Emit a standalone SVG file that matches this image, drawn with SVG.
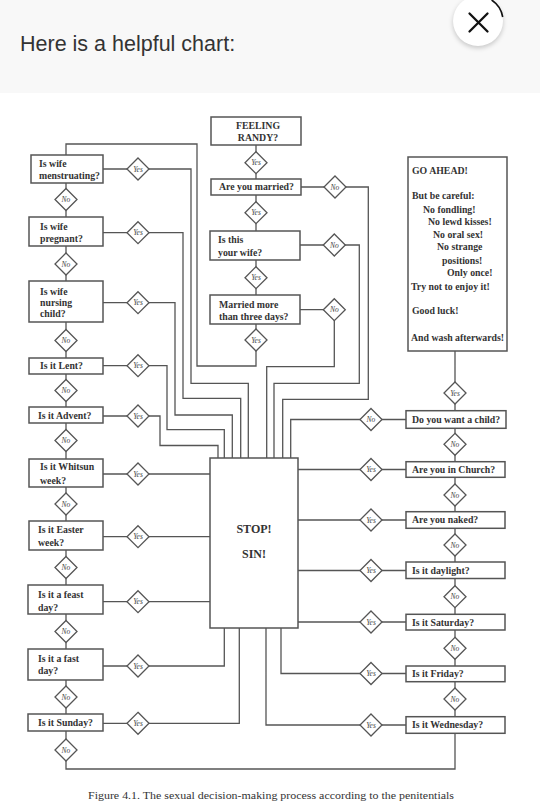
<svg xmlns="http://www.w3.org/2000/svg" xmlns:xlink="http://www.w3.org/1999/xlink" width="540" height="801" viewBox="0 0 540 801">
<defs>
<style>
.bx{fill:#fff;stroke:#555;stroke-width:1.5}
.cn{fill:none;stroke:#555;stroke-width:1.3}
.t{font-family:"Liberation Serif",serif;font-weight:bold;font-size:9.8px;fill:#333}
.dt{font-family:"Liberation Serif",serif;font-style:italic;font-size:7.5px;fill:#444;text-anchor:middle}
.m{text-anchor:middle}
.big{font-size:12px}
</style>
<polygon id="dm" points="0,-11 11,0 0,11 -11,0" fill="#fff" stroke="#555" stroke-width="1.3"/>
<filter id="sh" x="-50%" y="-50%" width="200%" height="200%"><feGaussianBlur stdDeviation="2.5"/></filter>
</defs>
<rect width="540" height="801" fill="#fff"/>
<g id="header">
<rect width="540" height="93" fill="#f8f8f8"/>
<text x="20" y="51" font-family="Liberation Sans, Arial, sans-serif" font-size="21.5" fill="#333">Here is a helpful chart:</text>
<circle cx="478" cy="23" r="25" fill="#000" opacity="0.2" filter="url(#sh)"/>
<circle cx="478" cy="21" r="25" fill="#fff"/>
<path d="M469.5,13.5 L487.5,31.5 M487.5,13.5 L469.5,31.5" stroke="#111" stroke-width="2.3" stroke-linecap="round"/>
<path d="M491.6,0 A25,25 0 0 1 502.7,17" fill="none" stroke="#111" stroke-width="1.6"/>
</g>
<g id="connectors">
<path class="cn" d="M256,145 V366 H197 V144 H66 V769 H455 V351"/>
<path class="cn" d="M301,187 H368.3 V399.3 H282.7 V458"/>
<path class="cn" d="M300,245 H359.3 V383.3 H274 V458"/>
<path class="cn" d="M300,309.7 H334.3 V366.7 H266.7 V458"/>
<path class="cn" d="M406,419.5 H290.7 V458"/>
<path class="cn" d="M103,169 H191 V383.3 H248.3 V458"/>
<path class="cn" d="M103,232.7 H183 V398.3 H240.7 V458"/>
<path class="cn" d="M103,302.7 H175 V415 H232.3 V458"/>
<path class="cn" d="M103,365.7 H167 V429.7 H224.3 V458"/>
<path class="cn" d="M103,416 H160 V445.5 H218 V458"/>
<path class="cn" d="M103,474 H210 M103,536.7 H210 M103,601.7 H210"/>
<path class="cn" d="M103,666 H224.3 V628 M103,723.3 H239.3 V628"/>
<path class="cn" d="M406,469.5 H298 M406,520 H298 M406,570.5 H298 M406,622 H298"/>
<path class="cn" d="M406,673.5 H281 V628 M406,725 H266 V628"/>
</g>
<g id="n-randy"><rect class="bx" x="211" y="117" width="90" height="28"/><text class="t m" x="258" y="129">FEELING</text><text class="t m" x="258" y="141">RANDY?</text></g>
<g id="n-married"><rect class="bx" x="211" y="179" width="90" height="16"/><text class="t" x="219" y="190.4">Are you married?</text></g>
<g id="n-wife"><rect class="bx" x="210" y="231" width="90" height="29"/><text class="t" x="218" y="243.4">Is this</text><text class="t" x="218" y="256.2">your wife?</text></g>
<g id="n-three"><rect class="bx" x="210" y="295" width="90" height="29"/><text class="t" x="219" y="307.7">Married more</text><text class="t" x="219" y="320.2">than three days?</text></g>
<g id="n-goahead"><rect class="bx" x="408" y="157" width="99" height="194"/>
<text class="t" x="412" y="174">GO AHEAD!</text>
<text class="t" x="412" y="198.5">But be careful:</text>
<text class="t" x="423" y="212.5">No fondling!</text>
<text class="t" x="428" y="225">No lewd kisses!</text>
<text class="t" x="433" y="237.5">No oral sex!</text>
<text class="t" x="437" y="250">No strange</text>
<text class="t" x="442" y="263.5">positions!</text>
<text class="t" x="447" y="276">Only once!</text>
<text class="t" x="411" y="289.5">Try not to enjoy it!</text>
<text class="t" x="412" y="314">Good luck!</text>
<text class="t" x="411" y="341">And wash afterwards!</text></g>
<g id="n-stop"><rect class="bx" x="210" y="458" width="88" height="170"/><text class="t m big" x="254" y="533.3">STOP!</text><text class="t m big" x="254" y="558.3">SIN!</text></g>
<g id="n-menstruating"><rect class="bx" x="31" y="155" width="72" height="28"/><text class="t" x="39" y="166.7">Is wife</text><text class="t" x="39" y="179">menstruating?</text></g>
<g id="n-pregnant"><rect class="bx" x="29" y="217" width="74" height="29"/><text class="t" x="40" y="230">Is wife</text><text class="t" x="40" y="241.5">pregnant?</text></g>
<g id="n-nursing"><rect class="bx" x="29" y="281" width="74" height="41"/><text class="t" x="40" y="295">Is wife</text><text class="t" x="40" y="306">nursing</text><text class="t" x="40" y="317">child?</text></g>
<g id="n-lent"><rect class="bx" x="29" y="358" width="74" height="16"/><text class="t" x="40" y="369">Is it Lent?</text></g>
<g id="n-advent"><rect class="bx" x="29" y="407" width="74" height="16"/><text class="t" x="38" y="419">Is it Advent?</text></g>
<g id="n-whitsun"><rect class="bx" x="29" y="459" width="74" height="28"/><text class="t" x="40" y="470">Is it Whitsun</text><text class="t" x="40" y="483.5">week?</text></g>
<g id="n-easter"><rect class="bx" x="29" y="521" width="74" height="29"/><text class="t" x="38" y="533.4">Is it Easter</text><text class="t" x="38" y="546.3">week?</text></g>
<g id="n-feast"><rect class="bx" x="28" y="585" width="75" height="29"/><text class="t" x="38" y="597.7">Is it a feast</text><text class="t" x="38" y="610.5">day?</text></g>
<g id="n-fast"><rect class="bx" x="28" y="649" width="75" height="31"/><text class="t" x="38" y="661.7">Is it a fast</text><text class="t" x="38" y="674.4">day?</text></g>
<g id="n-sunday"><rect class="bx" x="28" y="714" width="75" height="17"/><text class="t" x="38" y="726">Is it Sunday?</text></g>
<g id="n-child"><rect class="bx" x="406" y="410.7" width="100" height="17.6"/><text class="t" x="412" y="423">Do you want a child?</text></g>
<g id="n-church"><rect class="bx" x="406" y="461.7" width="99" height="15.6"/><text class="t" x="412" y="473">Are you in Church?</text></g>
<g id="n-naked"><rect class="bx" x="406" y="511.7" width="99" height="16.6"/><text class="t" x="412" y="523.4">Are you naked?</text></g>
<g id="n-daylight"><rect class="bx" x="406" y="562" width="99" height="16.5"/><text class="t" x="412" y="573.7">Is it daylight?</text></g>
<g id="n-saturday"><rect class="bx" x="406" y="614.3" width="99" height="15.7"/><text class="t" x="412" y="625.5">Is it Saturday?</text></g>
<g id="n-friday"><rect class="bx" x="406" y="666" width="99" height="15.7"/><text class="t" x="412" y="677.2">Is it Friday?</text></g>
<g id="n-wednesday"><rect class="bx" x="406" y="716.7" width="99" height="16.6"/><text class="t" x="412" y="728.4">Is it Wednesday?</text></g>
<g id="d-randy-yes"><use xlink:href="#dm" x="256" y="162.7"/><text class="dt" x="256" y="165.2">Yes</text></g>
<g id="d-married-yes"><use xlink:href="#dm" x="256" y="212.7"/><text class="dt" x="256" y="215.2">Yes</text></g>
<g id="d-wife-yes"><use xlink:href="#dm" x="256" y="277.7"/><text class="dt" x="256" y="280.2">Yes</text></g>
<g id="d-three-yes"><use xlink:href="#dm" x="256" y="340"/><text class="dt" x="256" y="342.5">Yes</text></g>
<g id="d-married-no"><use xlink:href="#dm" x="335" y="187"/><text class="dt" x="335" y="189.5">No</text></g>
<g id="d-wife-no"><use xlink:href="#dm" x="334.3" y="245"/><text class="dt" x="334.3" y="247.5">No</text></g>
<g id="d-three-no"><use xlink:href="#dm" x="334.3" y="309.7"/><text class="dt" x="334.3" y="312.2">No</text></g>
<g id="d-men-yes"><use xlink:href="#dm" x="138" y="169"/><text class="dt" x="138" y="171.5">Yes</text></g>
<g id="d-preg-yes"><use xlink:href="#dm" x="138" y="232.7"/><text class="dt" x="138" y="235.2">Yes</text></g>
<g id="d-nurs-yes"><use xlink:href="#dm" x="138" y="302.7"/><text class="dt" x="138" y="305.2">Yes</text></g>
<g id="d-lent-yes"><use xlink:href="#dm" x="138" y="365.7"/><text class="dt" x="138" y="368.2">Yes</text></g>
<g id="d-adv-yes"><use xlink:href="#dm" x="138" y="416"/><text class="dt" x="138" y="418.5">Yes</text></g>
<g id="d-whit-yes"><use xlink:href="#dm" x="138" y="474"/><text class="dt" x="138" y="476.5">Yes</text></g>
<g id="d-east-yes"><use xlink:href="#dm" x="138" y="536.7"/><text class="dt" x="138" y="539.2">Yes</text></g>
<g id="d-feast-yes"><use xlink:href="#dm" x="138" y="601.7"/><text class="dt" x="138" y="604.2">Yes</text></g>
<g id="d-fast-yes"><use xlink:href="#dm" x="138" y="666"/><text class="dt" x="138" y="668.5">Yes</text></g>
<g id="d-sun-yes"><use xlink:href="#dm" x="138" y="723.3"/><text class="dt" x="138" y="725.8">Yes</text></g>
<g id="d-men-no"><use xlink:href="#dm" x="66" y="199.5"/><text class="dt" x="66" y="202">No</text></g>
<g id="d-preg-no"><use xlink:href="#dm" x="66" y="264"/><text class="dt" x="66" y="266.5">No</text></g>
<g id="d-nurs-no"><use xlink:href="#dm" x="66" y="340.5"/><text class="dt" x="66" y="343">No</text></g>
<g id="d-lent-no"><use xlink:href="#dm" x="66" y="390.5"/><text class="dt" x="66" y="393">No</text></g>
<g id="d-adv-no"><use xlink:href="#dm" x="66" y="440.5"/><text class="dt" x="66" y="443">No</text></g>
<g id="d-whit-no"><use xlink:href="#dm" x="66" y="504"/><text class="dt" x="66" y="506.5">No</text></g>
<g id="d-east-no"><use xlink:href="#dm" x="66" y="567.5"/><text class="dt" x="66" y="570">No</text></g>
<g id="d-feast-no"><use xlink:href="#dm" x="66" y="631.5"/><text class="dt" x="66" y="634">No</text></g>
<g id="d-fast-no"><use xlink:href="#dm" x="66" y="697"/><text class="dt" x="66" y="699.5">No</text></g>
<g id="d-sun-no"><use xlink:href="#dm" x="66" y="750"/><text class="dt" x="66" y="752.5">No</text></g>
<g id="d-go-yes"><use xlink:href="#dm" x="455" y="393"/><text class="dt" x="455" y="395.5">Yes</text></g>
<g id="d-child-no"><use xlink:href="#dm" x="371" y="419.5"/><text class="dt" x="371" y="422">No</text></g>
<g id="d-church-yes"><use xlink:href="#dm" x="371" y="469.5"/><text class="dt" x="371" y="472">Yes</text></g>
<g id="d-naked-yes"><use xlink:href="#dm" x="371" y="520"/><text class="dt" x="371" y="522.5">Yes</text></g>
<g id="d-day-yes"><use xlink:href="#dm" x="371" y="570.5"/><text class="dt" x="371" y="573">Yes</text></g>
<g id="d-sat-yes"><use xlink:href="#dm" x="371" y="622"/><text class="dt" x="371" y="624.5">Yes</text></g>
<g id="d-fri-yes"><use xlink:href="#dm" x="371" y="673.5"/><text class="dt" x="371" y="676">Yes</text></g>
<g id="d-wed-yes"><use xlink:href="#dm" x="371" y="725"/><text class="dt" x="371" y="727.5">Yes</text></g>
<g id="d-child-no2"><use xlink:href="#dm" x="455" y="444.3"/><text class="dt" x="455" y="446.8">No</text></g>
<g id="d-church-no"><use xlink:href="#dm" x="455" y="495"/><text class="dt" x="455" y="497.5">No</text></g>
<g id="d-naked-no"><use xlink:href="#dm" x="455" y="545"/><text class="dt" x="455" y="547.5">No</text></g>
<g id="d-day-no"><use xlink:href="#dm" x="455" y="596.7"/><text class="dt" x="455" y="599.2">No</text></g>
<g id="d-sat-no"><use xlink:href="#dm" x="455" y="648.3"/><text class="dt" x="455" y="650.8">No</text></g>
<g id="d-fri-no"><use xlink:href="#dm" x="455" y="699"/><text class="dt" x="455" y="701.5">No</text></g>
<g id="caption"><text x="88" y="799" font-family="Liberation Serif, serif" font-size="11" fill="#333" textLength="366" lengthAdjust="spacingAndGlyphs">Figure 4.1. The sexual decision-making process according to the penitentials</text></g>
</svg>
